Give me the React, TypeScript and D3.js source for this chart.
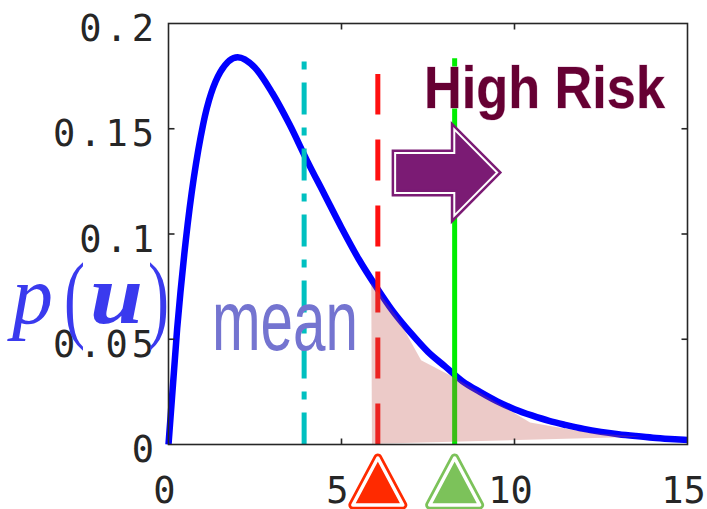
import React from "react";
import * as d3 from "d3";

// density curve p(u)
const curveX = [0, 0.25, 0.5, 1, 1.5, 2, 2.5, 3, 3.5, 4, 4.5, 5, 5.5, 6, 6.5, 7, 7.5, 8, 8.5, 9, 9.5, 10, 10.5, 11, 11.5, 12, 12.5, 13, 13.5, 14, 14.5, 15];
const curveY = [0, 0.055, 0.097, 0.152, 0.177, 0.184, 0.179, 0.167, 0.152, 0.135, 0.119, 0.103, 0.088, 0.075, 0.063, 0.053, 0.044, 0.037, 0.030, 0.025, 0.0205, 0.0168, 0.0138, 0.0112, 0.0092, 0.0074, 0.006, 0.0049, 0.004, 0.0032, 0.0026, 0.0021];

// shaded tail region (high risk)
const shadeX = [5.88, 5.86, 6.6, 7.3, 8.3, 10.45, 12.2, 13.7, 5.94];
const shadeY = [0.0, 0.0768, 0.0608, 0.040, 0.0315, 0.0105, 0.0055, 0.0037, 0.0003];

// vertical markers
const meanX = 3.92;
const meanTop = 0.182;
const redX = 6.05;
const redTop = 0.176;
const greenX = 8.27;
const greenTop = 0.1835;

// arrow (data coords)
const arrowX = [6.55, 8.26, 8.26, 9.5, 8.26, 8.26, 6.55];
const arrowY = [0.1385, 0.1385, 0.1497, 0.1292, 0.1087, 0.1195, 0.1195];

const xTicks = [0, 5, 10, 15];
const yTicks = [0, 0.05, 0.1, 0.15, 0.2];
const yTickLabels = ["0", "0.05", "0.1", "0.15", "0.2"];

const W = 707;
const H = 509;
const plot = { left: 168.5, right: 687.5, top: 23.5, bottom: 444.5 };

export default function App() {
  const svgRef = React.useRef<SVGSVGElement>(null);

  React.useEffect(() => {
    const svg = d3.select(svgRef.current);
    svg.selectAll("*").remove();

    const x = d3.scaleLinear().domain([0, 15]).range([plot.left, plot.right]);
    const y = d3.scaleLinear().domain([0, 0.2]).range([plot.bottom, plot.top]);
    const axisColor = "#262626";
    const mono = "'DejaVu Sans Mono', monospace";

    /* curve */
    const pts = curveX.map((v, i) => [v, curveY[i]] as [number, number]);
    const line = d3
      .line<[number, number]>()
      .x((d) => x(d[0]))
      .y((d) => y(d[1]))
      .curve(d3.curveMonotoneX);
    svg
      .append("path")
      .attr("d", line(pts))
      .attr("fill", "none")
      .attr("stroke", "#0000ff")
      .attr("stroke-width", 6.5)
      .attr("stroke-linejoin", "round");

    /* vertical lines, drawn from bottom up */
    const vline = (vx: number, top: number, color: string, dash: string | null) => {
      const p = svg
        .append("line")
        .attr("x1", x(vx))
        .attr("x2", x(vx))
        .attr("y1", y(0))
        .attr("y2", y(top))
        .attr("stroke", color)
        .attr("stroke-width", 5);
      if (dash) p.attr("stroke-dasharray", dash);
    };
    vline(meanX, meanTop, "#00c0c0", "32,13,8,13");
    vline(redX, redTop, "#ff1010", "41,25");
    vline(greenX, greenTop, "#00ee00", null);

    /* shaded tail, semi-transparent on top */
    const shade = shadeX.map((v, i) => [x(v), y(shadeY[i])] as [number, number]);
    svg
      .append("path")
      .attr("d", "M" + shade.join("L") + "Z")
      .attr("fill", "#c04e48")
      .attr("fill-opacity", 0.3);

    /* axes box */
    svg
      .append("rect")
      .attr("x", plot.left)
      .attr("y", plot.top)
      .attr("width", plot.right - plot.left)
      .attr("height", plot.bottom - plot.top)
      .attr("fill", "none")
      .attr("stroke", axisColor)
      .attr("stroke-width", 1.6);

    const tl = 6;
    xTicks.slice(1, -1).forEach((t) => {
      svg.append("line").attr("x1", x(t)).attr("x2", x(t)).attr("y1", plot.bottom).attr("y2", plot.bottom - tl).attr("stroke", axisColor).attr("stroke-width", 1.6);
      svg.append("line").attr("x1", x(t)).attr("x2", x(t)).attr("y1", plot.top).attr("y2", plot.top + tl).attr("stroke", axisColor).attr("stroke-width", 1.6);
    });
    yTicks.slice(1, -1).forEach((t) => {
      svg.append("line").attr("x1", plot.left).attr("x2", plot.left + tl).attr("y1", y(t)).attr("y2", y(t)).attr("stroke", axisColor).attr("stroke-width", 1.6);
      svg.append("line").attr("x1", plot.right).attr("x2", plot.right - tl).attr("y1", y(t)).attr("y2", y(t)).attr("stroke", axisColor).attr("stroke-width", 1.6);
    });

    /* tick labels */
    yTicks.forEach((t, i) => {
      svg
        .append("text")
        .attr("x", 158)
        .attr("y", y(t) + 17.5)
        .attr("text-anchor", "end")
        .attr("font-family", mono)
        .attr("font-size", 37)
        .attr("letter-spacing", 4)
        .attr("fill", axisColor)
        .text(yTickLabels[i]);
    });
    xTicks.forEach((t) => {
      svg
        .append("text")
        .attr("x", x(t) - 4)
        .attr("y", 503)
        .attr("text-anchor", "middle")
        .attr("font-family", mono)
        .attr("font-size", 37)
        .attr("fill", axisColor)
        .text(String(t));
    });

    /* p(u) label */
    const lab = svg.append("g").attr("fill", "#3a3aee").attr("font-family", "'Liberation Serif', serif");
    lab.append("text").attr("x", 12).attr("y", 323).attr("font-size", 82).attr("font-style", "italic").text("p");
    lab.append("text").attr("x", 64).attr("y", 330).attr("font-size", 98).attr("textLength", 21).attr("lengthAdjust", "spacingAndGlyphs").text("(");
    lab.append("text").attr("x", 90).attr("y", 323).attr("font-size", 84).attr("font-style", "italic").attr("font-weight", "bold").attr("textLength", 53).attr("lengthAdjust", "spacingAndGlyphs").text("u");
    lab.append("text").attr("x", 148).attr("y", 330).attr("font-size", 98).attr("textLength", 21).attr("lengthAdjust", "spacingAndGlyphs").text(")");

    /* mean label */
    svg
      .append("text")
      .attr("x", 212)
      .attr("y", 350)
      .attr("font-family", "'Liberation Sans', Arial, sans-serif")
      .attr("font-size", 86)
      .attr("textLength", 146)
      .attr("lengthAdjust", "spacingAndGlyphs")
      .attr("fill", "#7474d0")
      .text("mean");

    /* High Risk label */
    svg
      .append("text")
      .attr("x", 424)
      .attr("y", 108)
      .attr("font-family", "'Liberation Sans', Arial, sans-serif")
      .attr("font-weight", "bold")
      .attr("font-size", 60)
      .attr("textLength", 241)
      .attr("lengthAdjust", "spacingAndGlyphs")
      .attr("fill", "#660033")
      .attr("stroke", "#e0c0d8")
      .attr("stroke-width", 0.8)
      .attr("paint-order", "stroke")
      .text("High Risk");

    /* arrow */
    const arrow = arrowX.map((v, i) => [x(v), y(arrowY[i])] as [number, number]);
    const arrowD = "M" + arrow.join("L") + "Z";
    svg.append("path").attr("d", arrowD).attr("fill", "#7b1b74").attr("stroke", "#7b1b74").attr("stroke-width", 7).attr("stroke-linejoin", "miter");
    svg.append("path").attr("d", arrowD).attr("fill", "none").attr("stroke", "#ffffff").attr("stroke-width", 2);

    /* threshold triangles below the axis */
    const tri = (cx: number, fill: string, edge: string) => {
      const d = `M${cx},458L${cx + 25},505L${cx - 25},505Z`;
      svg.append("path").attr("d", d).attr("fill", fill).attr("stroke", edge).attr("stroke-width", 9).attr("stroke-linejoin", "round");
      svg.append("path").attr("d", d).attr("fill", "none").attr("stroke", "#ffffff").attr("stroke-width", 3.5).attr("stroke-linejoin", "round");
    };
    tri(x(redX), "#ff2a00", "#ff2a00");
    tri(x(greenX), "#7cc25a", "#7cc25a");
  }, []);

  return (
    <svg
      ref={svgRef}
      width={W}
      height={H}
      style={{ position: "absolute", left: 0, top: 0, background: "#fff" }}
    />
  );
}
